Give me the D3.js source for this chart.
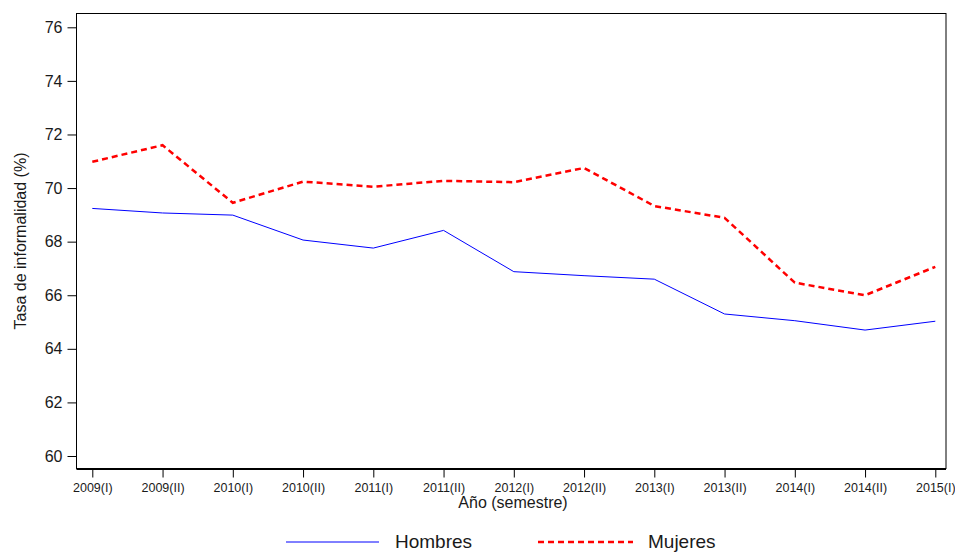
<!DOCTYPE html>
<html>
<head>
<meta charset="utf-8">
<script src="https://cdn.jsdelivr.net/npm/d3@7"></script>
<style>
  body { margin: 0; background: #fff; }
  text { font-family: "Liberation Sans", Arial, sans-serif; fill: #1a1a1a; }
</style>
</head>
<body>
<div id="chart"></div>
<script>
// data
const periods = ["2009(I)", "2009(II)", "2010(I)", "2010(II)", "2011(I)", "2011(II)", "2012(I)",
                 "2012(II)", "2013(I)", "2013(II)", "2014(I)", "2014(II)", "2015(I)"];
const hombres = [69.24, 69.07, 68.99, 68.06, 67.76, 68.42, 66.88, 66.73, 66.6, 65.3, 65.05, 64.7, 65.03];
const mujeres = [70.98, 71.6, 69.45, 70.24, 70.05, 70.27, 70.22, 70.75, 69.33, 68.89, 66.47, 66.0, 67.06];
const yTicks = [60, 62, 64, 66, 68, 70, 72, 74, 76];

const width = 955, height = 553;
const box = {left: 76.5, right: 946, top: 13.5, bottom: 468.5};

const svg = d3.select("#chart").append("svg")
    .attr("width", width)
    .attr("height", height);

// scales
const x = d3.scalePoint().domain(periods).range([92.3, 935.3]);
const y = d3.scaleLinear().domain([60, 76]).range([456, 27.3]);

// frame
svg.append("rect")
    .attr("x", box.left).attr("y", box.top)
    .attr("width", box.right - box.left).attr("height", box.bottom - box.top)
    .attr("fill", "none").attr("stroke", "#000").attr("stroke-width", 1);
svg.append("line")
    .attr("x1", box.left).attr("x2", box.right)
    .attr("y1", box.bottom + 0.5).attr("y2", box.bottom + 0.5)
    .attr("stroke", "#000").attr("stroke-width", 2);

// y axis
const yAxis = svg.append("g")
    .attr("transform", `translate(${box.left},0)`)
    .call(d3.axisLeft(y).tickValues(yTicks).tickSize(9).tickPadding(5).tickFormat(d3.format("d")));
yAxis.select(".domain").remove();
yAxis.selectAll("text").style("font-size", "16px").attr("font-family", null);

// x axis
const xAxis = svg.append("g")
    .attr("transform", `translate(0,${box.bottom + 1})`)
    .call(d3.axisBottom(x).tickSize(8).tickPadding(6));
xAxis.select(".domain").remove();
xAxis.selectAll("text").style("font-size", "12.5px").attr("font-family", null);

// axis titles
svg.append("text")
    .attr("x", 513).attr("y", 508)
    .attr("text-anchor", "middle")
    .style("font-size", "16px")
    .text("Año (semestre)");

svg.append("text")
    .attr("transform", "translate(26,241) rotate(-90)")
    .attr("text-anchor", "middle")
    .style("font-size", "16px")
    .text("Tasa de informalidad (%)");

// lines
const line = d3.line()
    .x((d, i) => x(periods[i]))
    .y(d => y(d));

svg.append("path")
    .datum(hombres)
    .attr("d", line)
    .attr("fill", "none")
    .attr("stroke", "#0000ff")
    .attr("stroke-width", 1);

svg.append("path")
    .datum(mujeres)
    .attr("d", line)
    .attr("fill", "none")
    .attr("stroke", "#ff0000")
    .attr("stroke-width", 2.5)
    .attr("stroke-dasharray", "6,4");

// legend (the reference crops it at the bottom edge; kept just inside here)
const legend = [
  {name: "Hombres", color: "#0000ff", w: 1, dash: null, x0: 286, x1: 379, tx: 395},
  {name: "Mujeres", color: "#ff0000", w: 2.5, dash: "6,4", x0: 538, x1: 633, tx: 648}
];
legend.forEach(l => {
  svg.append("line")
      .attr("x1", l.x0).attr("x2", l.x1)
      .attr("y1", 542).attr("y2", 542)
      .attr("stroke", l.color)
      .attr("stroke-width", l.w)
      .attr("stroke-dasharray", l.dash);
  svg.append("text")
      .attr("x", l.tx).attr("y", 548)
      .style("font-size", "19px")
      .text(l.name);
});
</script>
</body>
</html>
